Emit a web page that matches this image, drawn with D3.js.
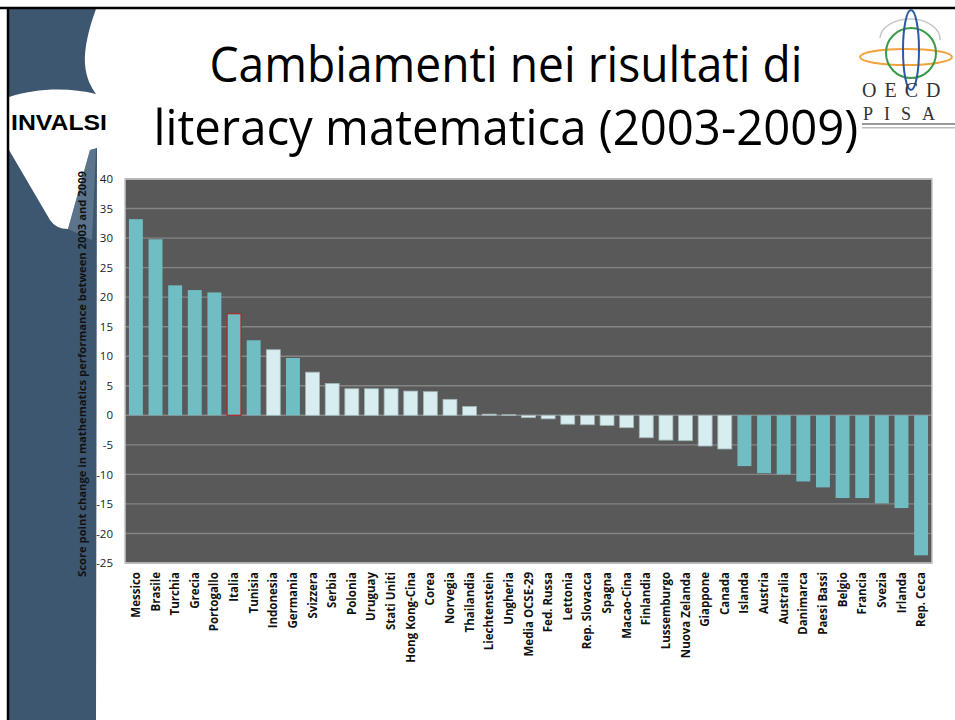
<!DOCTYPE html>
<html>
<head>
<meta charset="utf-8">
<script src="https://cdnjs.cloudflare.com/ajax/libs/d3/7.8.5/d3.min.js"></script>
<style>
  body { margin: 0; background: #fff; }
  svg { display: block; }
</style>
</head>
<body>
<svg id="slide" width="955" height="720"></svg>
<script>
// Paesi, in ordine
const countries = ['Messico', 'Brasile', 'Turchia', 'Grecia', 'Portogallo', 'Italia', 'Tunisia',
  'Indonesia', 'Germania', 'Svizzera', 'Serbia', 'Polonia', 'Uruguay', 'Stati Uniti',
  'Hong Kong-Cina', 'Corea', 'Norvegia', 'Thailandia', 'Liechtenstein', 'Ungheria',
  'Media OCSE-29', 'Fed. Russa', 'Lettonia', 'Rep. Slovacca', 'Spagna', 'Macao-Cina',
  'Finlandia', 'Lussemburgo', 'Nuova Zelanda', 'Giappone', 'Canada', 'Islanda', 'Austria',
  'Australia', 'Danimarca', 'Paesi Bassi', 'Belgio', 'Francia', 'Svezia', 'Irlanda', 'Rep. Ceca'];

// variazione del punteggio 2003-2009
const change = [33.2, 29.8, 22.0, 21.2, 20.8, 17.2, 12.7,
  11.1, 9.7, 7.3, 5.4, 4.5, 4.5, 4.5,
  4.1, 4.0, 2.7, 1.5, 0.2, 0.1,
  -0.4, -0.6, -1.5, -1.6, -1.7, -2.1,
  -3.8, -4.2, -4.3, -5.2, -5.7, -8.6, -9.8,
  -10.0, -11.2, -12.2, -14.0, -14.0, -14.9, -15.7, -23.7];

// differenza statisticamente significativa?
const significant = [true, true, true, true, true, true, true,
  false, true, false, false, false, false, false,
  false, false, false, false, false, false,
  false, false, false, false, false, false,
  false, false, false, false, false, true, true,
  true, true, true, true, true, true, true, true];

const yTicks = [-25, -20, -15, -10, -5, 0, 5, 10, 15, 20, 25, 30, 35, 40];
const highlight = 'Italia';

const svg = d3.select('#slide');

// --- sfondo della diapositiva ---
const blue = '#3e5770';
svg.append('path')
  .attr('d', 'M9,9 L96,9 C89,28 84,48 85,64 C86,78 91,87 96,94 C70,87 35,88 9,97 Z')
  .attr('fill', blue);
svg.append('path')
  .attr('d', 'M9,150 L50,220 Q56,229 68,229 L90,150 L97,148 L96,720 L9,720 Z')
  .attr('fill', blue);
svg.append('path')
  .attr('d', 'M68,229 L90,150 L96,149 L92,240 Z')
  .attr('fill', '#6f879c')
  .attr('opacity', 0.6);

svg.append('line').attr('x1', 0).attr('x2', 955).attr('y1', 8).attr('y2', 8)
  .attr('stroke', '#000').attr('stroke-width', 2.5);
svg.append('line').attr('x1', 8).attr('x2', 8).attr('y1', 7).attr('y2', 720)
  .attr('stroke', '#000').attr('stroke-width', 2.5);

svg.append('text')
  .attr('x', 11).attr('y', 130)
  .attr('font-family', 'Liberation Sans, Arial, sans-serif')
  .attr('font-weight', 'bold').attr('font-size', 22)
  .attr('textLength', 96).attr('lengthAdjust', 'spacingAndGlyphs')
  .text('INVALSI');

// --- titolo ---
// squeezed horizontally with a transform so the box matches what is drawn
const title = [
  { text: 'Cambiamenti nei risultati di', y: 82, len: 593 },
  { text: 'literacy matematica (2003-2009)', y: 145, len: 705 }
];
svg.selectAll('.title').data(title).enter().append('text')
  .attr('class', 'title')
  .attr('font-family', 'Open Sans, sans-serif')
  .attr('font-size', 49)
  .attr('fill', '#000')
  .text(d => d.text)
  .each(function(d) {
    let w = this.getComputedTextLength();
    d3.select(this).attr('transform',
      `translate(${506 - d.len / 2},${d.y}) scale(${d.len / w},1)`);
  });

// --- logo OECD PISA ---
const logo = svg.append('g');
logo.append('path')
  .attr('d', 'M880,38 A30,20 0 0 1 940,40')
  .attr('fill', 'none').attr('stroke', '#c8c8c8').attr('stroke-width', 1.5);
logo.append('ellipse').attr('cx', 906).attr('cy', 57).attr('rx', 46).attr('ry', 8)
  .attr('fill', 'none').attr('stroke', '#f2a23a').attr('stroke-width', 2);
logo.append('circle').attr('cx', 911).attr('cy', 53).attr('r', 25)
  .attr('fill', 'none').attr('stroke', '#3a9a45').attr('stroke-width', 2);
logo.append('ellipse').attr('cx', 911).attr('cy', 50).attr('rx', 8).attr('ry', 40)
  .attr('fill', 'none').attr('stroke', '#2c5aa0').attr('stroke-width', 2);
logo.append('text').attr('x', 862).attr('y', 97)
  .attr('font-family', 'Liberation Serif, serif').attr('font-size', 20)
  .attr('letter-spacing', 8).attr('fill', '#333').text('OECD');
logo.append('text').attr('x', 863).attr('y', 120)
  .attr('font-family', 'Liberation Serif, serif').attr('font-size', 18)
  .attr('letter-spacing', 11).attr('fill', '#333').text('PISA');
logo.append('rect').attr('x', 862).attr('y', 123).attr('width', 93).attr('height', 2).attr('fill', '#999');
logo.append('rect').attr('x', 862).attr('y', 127).attr('width', 93).attr('height', 1.5).attr('fill', '#bbb');

// --- grafico ---
const plot = { left: 125, right: 932, top: 179, bottom: 563 };

const x = d3.scaleBand()
  .domain(countries)
  .range([plot.left, plot.right])
  .paddingInner(0.29)
  .paddingOuter(0.2);

const y = d3.scaleLinear()
  .domain([-25, 40])
  .range([plot.bottom, plot.top]);

svg.append('rect')
  .attr('x', plot.left).attr('y', plot.top)
  .attr('width', plot.right - plot.left).attr('height', plot.bottom - plot.top)
  .attr('fill', '#595959');

svg.append('g').selectAll('line').data(yTicks).enter().append('line')
  .attr('x1', plot.left).attr('x2', plot.right)
  .attr('y1', d => y(d)).attr('y2', d => y(d))
  .attr('stroke', '#858585').attr('stroke-width', 1.4);

svg.append('rect')
  .attr('x', plot.left).attr('y', plot.top)
  .attr('width', plot.right - plot.left).attr('height', plot.bottom - plot.top)
  .attr('fill', 'none').attr('stroke', '#c4c4c4').attr('stroke-width', 1.5);

let bars = countries.map((c, i) => ({ name: c, value: change[i], sig: significant[i] }));

svg.append('g').selectAll('rect').data(bars).enter().append('rect')
  .attr('x', d => x(d.name))
  .attr('width', x.bandwidth())
  .attr('y', d => y(Math.max(0, d.value)))
  .attr('height', d => Math.abs(y(d.value) - y(0)))
  .attr('fill', d => d.sig ? '#70bec4' : '#d8edf0')
  .attr('stroke', d => d.name === highlight ? '#b3232a' : (d.sig ? 'none' : '#9fb5b8'))
  .attr('stroke-width', d => d.name === highlight ? 1.2 : 0.8);

// asse y
let yAxis = svg.append('g')
  .attr('transform', `translate(${plot.left - 12},0)`)
  .call(d3.axisLeft(y).tickValues(yTicks).tickSize(0).tickFormat(d => d.toString()));
yAxis.select('.domain').remove();
yAxis.selectAll('text')
  .attr('x', 0)
  .attr('font-family', 'Open Sans, sans-serif')
  .attr('font-size', 11.5)
  .attr('fill', '#222');

svg.append('text')
  .attr('transform', 'translate(86,374) rotate(-90)')
  .attr('text-anchor', 'middle')
  .attr('font-family', 'Open Sans, sans-serif')
  .attr('font-weight', 'bold')
  .attr('font-size', 10.5)
  .attr('fill', '#111')
  .attr('textLength', 406).attr('lengthAdjust', 'spacingAndGlyphs')
  .text('Score point change in mathematics performance  between 2003 and 2009');

// etichette paesi
svg.append('g').selectAll('text').data(countries).enter().append('text')
  .attr('transform', d => `translate(${x(d) + x.bandwidth() / 2},572) rotate(-90)`)
  .attr('dy', '0.35em')
  .attr('text-anchor', 'end')
  .attr('font-family', 'Open Sans, sans-serif')
  .attr('font-weight', 'bold')
  .attr('font-size', 11.5)
  .attr('fill', '#111')
  .text(d => d);
</script>
</body>
</html>
